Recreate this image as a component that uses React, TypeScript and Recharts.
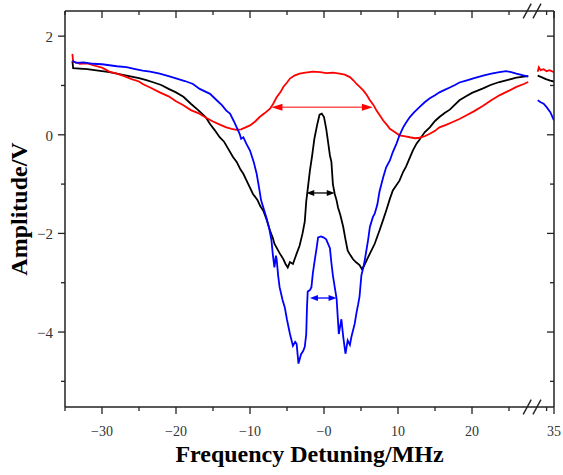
import React from 'react';
import { LineChart, Line, XAxis, YAxis, ReferenceLine } from 'recharts';

// ---- axis break: values beyond the break are shifted left by this amount
const BREAK_SHIFT = 3.92;
const GAP_T = 28.2;
const X_DOMAIN: [number, number] = [-35, 35 - BREAK_SHIFT];
const Y_DOMAIN: [number, number] = [-5.52, 2.51];

// ---- tick labels
const xMajorTicks = [-30, -20, -10, 0, 10, 20, 35];
const xMajorLabels = ['\u221230', '\u221220', '\u221210', '\u22120', '10', '20', '35'];
const xMinorTicks = [-35, -25, -15, -5, 5, 15, 25, 34];
const yMajorTicks = [2, 0, -2, -4];
const yMajorLabels = ['2', '0', '\u22122', '\u22124'];
const yMinorTicks = [1, -1, -3, -5];

// ---- series: [detuning MHz, amplitude V]
const blackMain: [number, number][] = [
  [-34.0, 1.5], [-33.9, 1.35], [-33.0, 1.34], [-32.0, 1.33], [-31.0, 1.31], [-30.0, 1.29],
  [-29.0, 1.27], [-28.0, 1.24], [-27.0, 1.21], [-26.0, 1.18], [-25.0, 1.15], [-24.0, 1.11],
  [-23.0, 1.06], [-22.0, 1.01], [-21.0, 0.93], [-20.0, 0.86], [-19.0, 0.77], [-18.0, 0.63],
  [-17.0, 0.5], [-16.0, 0.36], [-15.4, 0.22], [-14.8, 0.1], [-14.1, -0.05], [-13.5, -0.14],
  [-13.0, -0.27], [-12.3, -0.45], [-11.8, -0.55], [-11.3, -0.7], [-10.9, -0.79], [-10.3, -0.98],
  [-9.6, -1.2], [-9.0, -1.32], [-8.6, -1.45], [-8.2, -1.54], [-7.8, -1.7], [-7.3, -1.94],
  [-6.9, -2.1], [-6.7, -2.21], [-6.0, -2.4], [-5.5, -2.52], [-5.2, -2.62], [-4.9, -2.69],
  [-4.6, -2.58], [-4.2, -2.62], [-3.7, -2.41], [-3.3, -2.25], [-2.9, -2.0], [-2.6, -1.76],
  [-2.4, -1.35], [-2.2, -1.1], [-1.9, -0.72], [-1.6, -0.42], [-1.3, -0.08], [-0.9, 0.22],
  [-0.6, 0.41], [-0.3, 0.43], [0.0, 0.36], [0.3, 0.12], [0.6, -0.2], [0.8, -0.42], [1.0, -0.55],
  [1.2, -1.0], [1.45, -1.2], [1.7, -1.33], [1.9, -1.48], [2.2, -1.62], [2.6, -1.87],
  [2.9, -2.12], [3.2, -2.35], [3.6, -2.45], [3.9, -2.52], [4.3, -2.58], [4.8, -2.64],
  [5.1, -2.72], [5.4, -2.66], [5.9, -2.5], [6.4, -2.35], [6.85, -2.21], [7.5, -1.94],
  [8.0, -1.72], [8.4, -1.54], [8.9, -1.3], [9.3, -1.13], [10.2, -0.93], [10.7, -0.75],
  [11.1, -0.64], [12.0, -0.32], [12.5, -0.18], [12.9, -0.1], [13.6, 0.05], [14.3, 0.15],
  [15.0, 0.28], [15.6, 0.36], [16.3, 0.44], [17.0, 0.51], [18.3, 0.7], [19.2, 0.78],
  [20.0, 0.85], [21.5, 0.94], [22.5, 1.01], [23.7, 1.07], [25.0, 1.12], [26.0, 1.16],
  [27.0, 1.18], [27.6, 1.19],
];
const blackRight: [number, number][] = [
  [32.8, 1.2], [33.3, 1.17], [33.9, 1.13], [34.5, 1.1], [35.0, 1.08],
];

const redMain: [number, number][] = [
  [-34.0, 1.64], [-33.9, 1.48], [-33.5, 1.47], [-33.0, 1.44], [-32.0, 1.45], [-31.2, 1.41],
  [-30.0, 1.36], [-29.0, 1.28], [-28.0, 1.24], [-27.0, 1.19], [-26.0, 1.13], [-25.0, 1.08],
  [-24.5, 1.03], [-23.5, 0.96], [-22.2, 0.86], [-21.0, 0.78], [-20.0, 0.68], [-19.0, 0.6],
  [-18.0, 0.5], [-17.0, 0.44], [-16.0, 0.35], [-15.0, 0.27], [-14.0, 0.2], [-13.2, 0.15],
  [-12.5, 0.12], [-11.8, 0.1], [-11.2, 0.11], [-10.6, 0.15], [-10.0, 0.19], [-9.3, 0.27],
  [-8.7, 0.36], [-8.0, 0.44], [-7.3, 0.53], [-6.9, 0.62], [-6.4, 0.76], [-5.9, 0.86],
  [-5.5, 0.97], [-5.0, 1.06], [-4.6, 1.14], [-4.0, 1.2], [-3.3, 1.24], [-2.5, 1.26],
  [-1.5, 1.28], [-0.5, 1.27], [0.3, 1.25], [1.2, 1.26], [2.1, 1.24], [2.8, 1.22], [3.5, 1.17],
  [4.0, 1.1], [4.4, 1.03], [4.9, 0.96], [5.3, 0.9], [5.8, 0.8], [6.2, 0.7], [6.7, 0.6],
  [7.1, 0.49], [7.6, 0.38], [8.0, 0.29], [8.5, 0.2], [8.9, 0.12], [9.5, 0.06], [10.2, -0.01],
  [11.0, -0.03], [11.6, -0.05], [12.3, -0.07], [12.9, -0.06], [13.6, -0.03], [14.3, 0.02],
  [15.0, 0.08], [15.6, 0.15], [16.5, 0.2], [17.4, 0.26], [18.3, 0.32], [19.2, 0.39],
  [20.3, 0.48], [21.5, 0.59], [22.6, 0.7], [23.7, 0.8], [24.8, 0.88], [26.0, 0.97],
  [27.0, 1.03], [27.6, 1.07],
];
const redRight: [number, number][] = [
  [32.8, 1.28], [32.95, 1.37], [33.2, 1.31], [33.6, 1.33], [34.0, 1.29], [34.4, 1.31], [35.0, 1.27],
];

const blueMain: [number, number][] = [
  [-34.0, 1.5], [-33.5, 1.46], [-32.5, 1.47], [-31.2, 1.44], [-30.0, 1.43], [-29.0, 1.41],
  [-28.0, 1.39], [-26.7, 1.37], [-25.5, 1.33], [-24.5, 1.3], [-23.5, 1.28], [-22.2, 1.24],
  [-21.0, 1.19], [-19.9, 1.14], [-18.8, 1.09], [-17.7, 1.03], [-16.8, 0.93], [-15.4, 0.83],
  [-14.5, 0.7], [-13.8, 0.6], [-13.2, 0.49], [-12.7, 0.43], [-12.2, 0.28], [-11.8, 0.15],
  [-11.4, 0.02], [-11.2, -0.08], [-10.9, -0.05], [-10.5, -0.18], [-10.0, -0.32], [-9.5, -0.55],
  [-9.1, -0.79], [-8.8, -1.05], [-8.5, -1.33], [-7.8, -1.67], [-7.4, -1.9], [-7.1, -2.14],
  [-6.9, -2.45], [-6.7, -2.69], [-6.5, -2.45], [-6.4, -2.52], [-6.2, -2.85], [-6.0, -3.09],
  [-5.6, -3.35], [-5.3, -3.5], [-5.0, -3.75], [-4.6, -4.04], [-4.2, -4.28], [-3.9, -4.2],
  [-3.7, -4.24], [-3.45, -4.64], [-3.1, -4.45], [-2.8, -4.38], [-2.6, -4.3], [-2.4, -4.04],
  [-2.3, -3.5], [-2.2, -3.18], [-1.9, -3.15], [-1.7, -3.09], [-1.5, -2.8], [-1.26, -2.55],
  [-1.0, -2.3], [-0.8, -2.08], [-0.4, -2.06], [-0.1, -2.08], [0.3, -2.12], [0.8, -2.3],
  [1.0, -2.6], [1.2, -2.85], [1.45, -3.09], [1.7, -3.32], [1.9, -3.8], [2.0, -4.04],
  [2.35, -3.74], [2.6, -4.1], [2.9, -4.44], [3.2, -4.17], [3.5, -4.26], [3.7, -4.1],
  [4.15, -3.83], [4.4, -3.6], [4.6, -3.45], [4.8, -3.28], [5.05, -2.85], [5.3, -2.7],
  [5.5, -2.55], [5.95, -2.14], [6.2, -1.87], [6.6, -1.67], [6.85, -1.6], [7.2, -1.42],
  [7.5, -1.15], [8.0, -0.86], [8.4, -0.66], [8.9, -0.52], [9.3, -0.35], [9.8, -0.18],
  [10.2, -0.01], [10.7, 0.15], [11.1, 0.25], [11.6, 0.36], [12.2, 0.46], [12.9, 0.56],
  [13.6, 0.66], [14.3, 0.74], [15.0, 0.8], [15.6, 0.86], [16.3, 0.91], [17.0, 0.96],
  [17.7, 1.01], [18.3, 1.06], [19.2, 1.1], [20.3, 1.15], [21.5, 1.2], [22.6, 1.24],
  [23.7, 1.27], [24.6, 1.29], [25.3, 1.27], [26.0, 1.24], [26.8, 1.21], [27.6, 1.18],
];
const blueRight: [number, number][] = [
  [32.8, 0.7], [33.2, 0.66], [33.6, 0.63], [34.0, 0.56], [34.5, 0.46], [35.0, 0.29],
];

// ---- width markers (double arrows): level V, from MHz, to MHz
const redArrow = { v: 0.56, from: -7.1, to: 6.6 };
const blackArrow = { v: -1.18, from: -2.4, to: 1.45 };
const blueArrow = { v: -3.31, from: -1.9, to: 1.7 };

// ---- break-mark positions (axis units, main segment)
const breakMarks = [27.46, 28.78];

const toT = (x: number) => (x > 30 ? x - BREAK_SHIFT : x);
const build = (main: [number, number][], right: [number, number][]) => [
  ...main.map(([x, v]) => ({ t: toT(x), v })),
  { t: GAP_T, v: null as number | null },
  ...right.map(([x, v]) => ({ t: toT(x), v })),
];

const blackData = build(blackMain, blackRight);
const redData = build(redMain, redRight);
const blueData = build(blueMain, blueRight);

const xMajorT = xMajorTicks.map(toT);
const xMinorT = xMinorTicks.map(toT);
const xAllT = [...xMajorT, ...xMinorT];
const yAll = [...yMajorTicks, ...yMinorTicks];

const FONT = "'Liberation Serif', 'Times New Roman', serif";
const AXIS = '#222';
const MAJOR = 7;
const MINOR = 4;

// chart layout
const CHART_W = 563;
const CHART_H = 475;
const M_TOP = 10;
const TOP_AXIS_H = 1;
const BOTTOM_AXIS_H = 68;
const PLOT_H = CHART_H - M_TOP - TOP_AXIS_H - BOTTOM_AXIS_H;

const findIdx = (arr: number[], v: number) => arr.findIndex((a) => Math.abs(a - v) < 1e-6);

const BottomTick = (props: any) => {
  const { x, y, payload } = props;
  const idx = findIdx(xMajorT, payload.value);
  const len = idx >= 0 ? MAJOR : MINOR;
  return (
    <g>
      <line x1={x} y1={y} x2={x} y2={y + len} stroke={AXIS} strokeWidth={1.3} />
      {idx >= 0 && (
        <text x={x} y={y + 29} textAnchor="middle" fontSize={14} fontFamily={FONT} fill="#333">
          {xMajorLabels[idx]}
        </text>
      )}
    </g>
  );
};

// top ticks point inward; the last one also carries the right frame and its inward ticks
const TopTick = (props: any) => {
  const { x, y, payload } = props;
  const idx = findIdx(xMajorT, payload.value);
  const len = idx >= 0 ? MAJOR : MINOR;
  const isRightEdge = Math.abs(payload.value - X_DOMAIN[1]) < 1e-6;
  const span = Y_DOMAIN[1] - Y_DOMAIN[0];
  return (
    <g>
      <line x1={x} y1={y} x2={x} y2={y + len} stroke={AXIS} strokeWidth={1.3} />
      {isRightEdge && (
        <g>
          <line x1={x} y1={y} x2={x} y2={y + PLOT_H} stroke={AXIS} strokeWidth={1.5} />
          {yAll.map((v) => {
            const yy = y + ((Y_DOMAIN[1] - v) / span) * PLOT_H;
            const l = findIdx(yMajorTicks, v) >= 0 ? MAJOR : MINOR;
            return <line key={v} x1={x} y1={yy} x2={x - l} y2={yy} stroke={AXIS} strokeWidth={1.3} />;
          })}
        </g>
      )}
    </g>
  );
};

const LeftTick = (props: any) => {
  const { x, y, payload } = props;
  const idx = findIdx(yMajorTicks, payload.value);
  const len = idx >= 0 ? MAJOR : MINOR;
  return (
    <g>
      <line x1={x} y1={y} x2={x - len} y2={y} stroke={AXIS} strokeWidth={1.3} />
      {idx >= 0 && (
        <text x={x - 12} y={y + 6} textAnchor="end" fontSize={15} fontFamily={FONT} fill="#333">
          {yMajorLabels[idx]}
        </text>
      )}
    </g>
  );
};

const XTitle = (props: any) => {
  const { x, y, width } = props.viewBox;
  return (
    <text x={x + width / 2} y={y + 55} textAnchor="middle" fontSize={24} fontWeight="bold" fontFamily={FONT} fill="#000">
      Frequency Detuning/MHz
    </text>
  );
};

const YTitle = (props: any) => {
  const { y, height } = props.viewBox;
  const cx = 27;
  const cy = y + height / 2;
  return (
    <text
      x={cx}
      y={cy}
      transform={`rotate(-90 ${cx} ${cy})`}
      textAnchor="middle"
      fontSize={24}
      fontWeight="bold"
      fontFamily={FONT}
      fill="#000"
    >
      Amplitude/V
    </text>
  );
};

const makeArrow = (color: string, head: number, half: number, width: number) => (p: any) => {
  const { x1, y1, x2, y2 } = p;
  const l = Math.min(x1, x2);
  const r = Math.max(x1, x2);
  const y = (y1 + y2) / 2;
  return (
    <g>
      <line x1={l + head * 0.8} y1={y} x2={r - head * 0.8} y2={y} stroke={color} strokeWidth={width} />
      <polygon points={`${l},${y} ${l + head},${y - half} ${l + head},${y + half}`} fill={color} />
      <polygon points={`${r},${y} ${r - head},${y - half} ${r - head},${y + half}`} fill={color} />
    </g>
  );
};

const slashHalfT = 0.54;
const slashHalfV = 0.15;

export default function App() {
  return (
    <div style={{ position: 'absolute', left: 0, top: 0, width: CHART_W, height: CHART_H, background: '#fff' }}>
      <LineChart width={CHART_W} height={CHART_H} margin={{ top: M_TOP, right: 9, bottom: 0, left: 0 }}>
        <XAxis
          xAxisId={0}
          type="number"
          dataKey="t"
          domain={X_DOMAIN}
          allowDataOverflow
          ticks={xAllT}
          interval={0}
          tickSize={0}
          tickMargin={0}
          tickLine={false}
          tick={<BottomTick />}
          height={BOTTOM_AXIS_H}
          axisLine={{ stroke: AXIS, strokeWidth: 1.5 }}
          label={<XTitle />}
        />
        <XAxis
          xAxisId="top"
          orientation="top"
          type="number"
          dataKey="t"
          domain={X_DOMAIN}
          allowDataOverflow
          ticks={xAllT}
          interval={0}
          tickSize={0}
          tickMargin={0}
          tickLine={false}
          tick={<TopTick />}
          height={TOP_AXIS_H}
          axisLine={{ stroke: AXIS, strokeWidth: 1.5 }}
        />
        <YAxis
          yAxisId={0}
          type="number"
          domain={Y_DOMAIN}
          allowDataOverflow
          ticks={yAll}
          interval={0}
          tickSize={0}
          tickMargin={0}
          tickLine={false}
          tick={<LeftTick />}
          width={65}
          axisLine={{ stroke: AXIS, strokeWidth: 1.5 }}
          label={<YTitle />}
        />
        <Line data={blackData} dataKey="v" type="linear" stroke="#000000" strokeWidth={1.8} dot={false} connectNulls={false} isAnimationActive={false} />
        <Line data={redData} dataKey="v" type="linear" stroke="#ff0000" strokeWidth={1.8} dot={false} connectNulls={false} isAnimationActive={false} />
        <Line data={blueData} dataKey="v" type="linear" stroke="#0000ff" strokeWidth={1.8} dot={false} connectNulls={false} isAnimationActive={false} />
        <Line data={blackData} dataKey="v" xAxisId="top" stroke="none" dot={false} legendType="none" isAnimationActive={false} />

        <ReferenceLine
          ifOverflow="visible"
          segment={[{ x: redArrow.from, y: redArrow.v }, { x: redArrow.to, y: redArrow.v }]}
          shape={makeArrow('#ff0000', 11, 3.5, 1)}
        />
        <ReferenceLine
          ifOverflow="visible"
          segment={[{ x: blackArrow.from, y: blackArrow.v }, { x: blackArrow.to, y: blackArrow.v }]}
          shape={makeArrow('#000000', 8, 3, 1.3)}
        />
        <ReferenceLine
          ifOverflow="visible"
          segment={[{ x: blueArrow.from, y: blueArrow.v }, { x: blueArrow.to, y: blueArrow.v }]}
          shape={makeArrow('#0000ff', 8, 3, 1.3)}
        />

        {breakMarks.map((t) => (
          <ReferenceLine
            key={`b${t}`}
            ifOverflow="visible"
            segment={[{ x: t - slashHalfT, y: Y_DOMAIN[0] - slashHalfV }, { x: t + slashHalfT, y: Y_DOMAIN[0] + slashHalfV }]}
            stroke={AXIS}
            strokeWidth={1.4}
          />
        ))}
        {breakMarks.map((t) => (
          <ReferenceLine
            key={`t${t}`}
            ifOverflow="visible"
            segment={[{ x: t - slashHalfT, y: Y_DOMAIN[1] - slashHalfV }, { x: t + slashHalfT, y: Y_DOMAIN[1] + slashHalfV }]}
            stroke={AXIS}
            strokeWidth={1.4}
          />
        ))}
      </LineChart>
    </div>
  );
}
